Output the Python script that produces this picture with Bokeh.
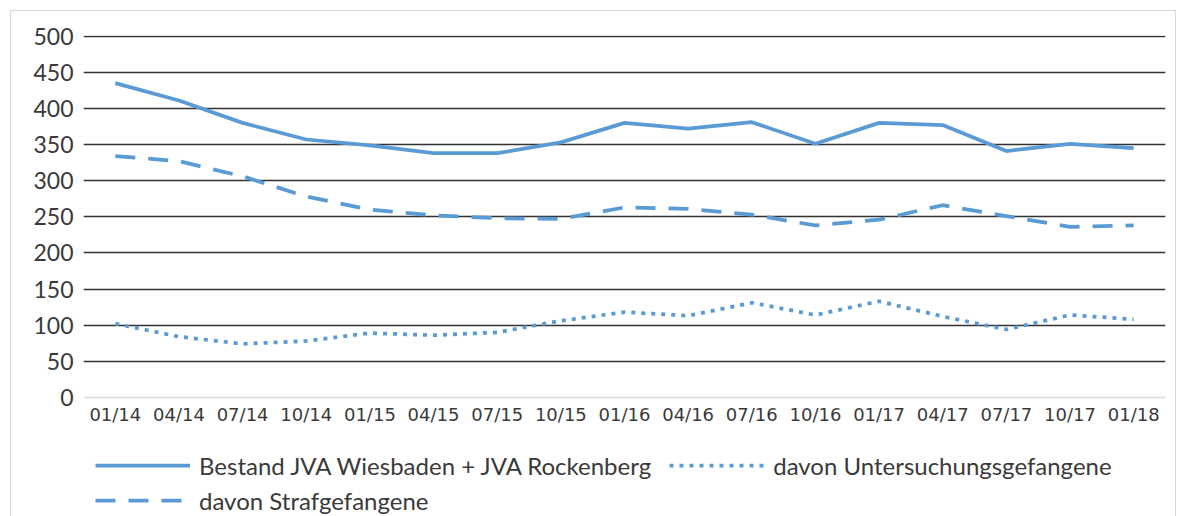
from bokeh.plotting import figure
from bokeh.models import FactorRange, Range1d, FixedTicker, Legend, LegendItem
from bokeh.embed import file_html
from bokeh.resources import INLINE

quarters = ["01/14", "04/14", "07/14", "10/14", "01/15", "04/15", "07/15", "10/15",
            "01/16", "04/16", "07/16", "10/16", "01/17", "04/17", "07/17", "10/17", "01/18"]
bestand = [435, 411, 380, 357, 349, 338, 338, 353, 380, 372, 381, 351, 380, 377, 341, 351, 345]
uhaft = [102, 84, 74, 78, 89, 86, 90, 106, 118, 113, 131, 114, 133, 112, 94, 114, 108]
straf = [334, 327, 306, 278, 260, 252, 248, 247, 263, 261, 253, 238, 246, 266, 251, 236, 238]
y_ticks = [0, 50, 100, 150, 200, 250, 300, 350, 400, 450, 500]

BLUE = "#5B9BD5"
TXT = "#3a3a3a"

# frame extends below the x axis (which sits at y=0) so the legend fits inside it
p = figure(frame_width=1082, frame_height=481,
           x_range=FactorRange(factors=quarters, range_padding=0),
           y_range=Range1d(-165, 501), output_backend="svg", toolbar_location=None,
           min_border_left=72, min_border_right=10, min_border_top=24, min_border_bottom=0)
p.styles = {"border": "1px solid #d9d9d9", "margin": "10px 0 0 10px"}
p.outline_line_color = None

r1 = p.line(quarters, bestand, line_color=BLUE, line_width=3.75)
r2 = p.line(quarters, uhaft, line_color=BLUE, line_width=3.75, line_dash="4 6")
r3 = p.line(quarters, straf, line_color=BLUE, line_width=3.75, line_dash="20 13")

p.xgrid.grid_line_color = None
p.ygrid.ticker = FixedTicker(ticks=y_ticks[1:])
p.ygrid.grid_line_color = "#333333"
p.ygrid.grid_line_width = 1.5

p.yaxis.ticker = FixedTicker(ticks=y_ticks)
p.yaxis.axis_line_color = None
p.yaxis.major_tick_line_color = None
p.yaxis.minor_tick_line_color = None
p.yaxis.major_tick_out = 0
p.yaxis.major_tick_in = 0
p.yaxis.major_label_standoff = 10
p.yaxis.major_label_text_font = "Lato"
p.yaxis.major_label_text_font_size = "23px"
p.yaxis.major_label_text_color = TXT

p.xaxis.fixed_location = 0
p.xaxis.axis_line_color = "#d9d9d9"
p.xaxis.axis_line_width = 1.5
p.xaxis.major_tick_line_color = None
p.xaxis.major_tick_out = 0
p.xaxis.major_tick_in = 0
p.xaxis.major_label_standoff = 7
p.xaxis.major_label_text_font = "DejaVu Sans"
p.xaxis.major_label_text_font_size = "18px"
p.xaxis.major_label_text_color = TXT

common = dict(glyph_width=95, glyph_height=30, label_height=30, label_standoff=9,
              padding=0, margin=0, label_text_font="Lato", label_text_font_size="24px",
              label_text_color=TXT, border_line_color=None, background_fill_alpha=0)

leg1 = Legend(items=[LegendItem(label="Bestand JVA Wiesbaden + JVA Rockenberg", renderers=[r1]),
                     LegendItem(label="davon Untersuchungsgefangene", renderers=[r2])],
              orientation="horizontal", spacing=18, location=(12, 36), **common)
leg2 = Legend(items=[LegendItem(label="davon Strafgefangene", renderers=[r3])],
              orientation="horizontal", location=(12, 1), **common)
p.add_layout(leg1, "center")
p.add_layout(leg2, "center")

open("out.html", "w").write(file_html(p, INLINE))
